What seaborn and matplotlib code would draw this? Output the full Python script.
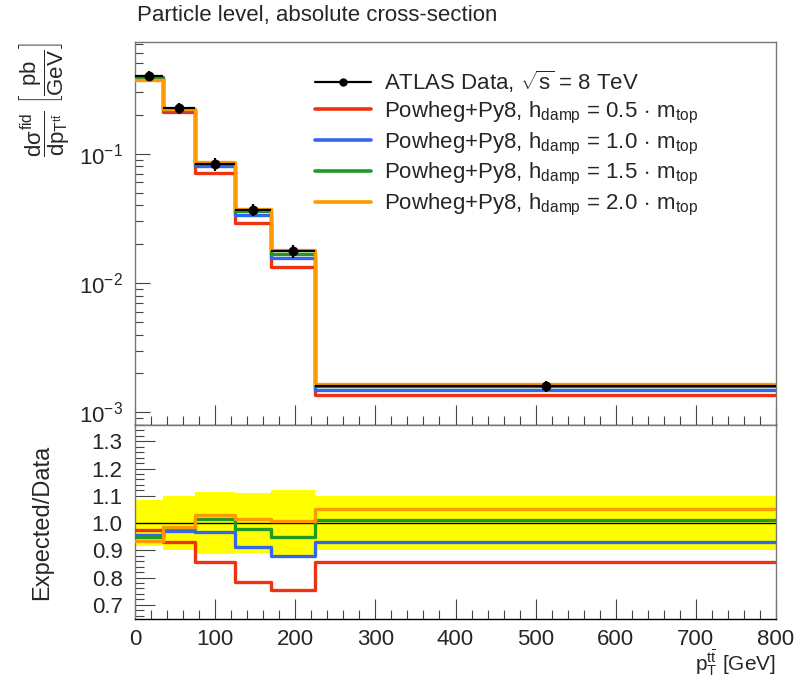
import numpy as np
import pandas as pd
import matplotlib
matplotlib.use("Agg")
import matplotlib.pyplot as plt
from matplotlib.lines import Line2D
from matplotlib.ticker import MultipleLocator, LogLocator, NullFormatter, FormatStrFormatter
import seaborn as sns

# binning and measured values (particle level, absolute cross-section)
bin_edges = [0, 35, 75, 125, 170, 225, 800]
data_xsec = [0.40, 0.225, 0.083, 0.037, 0.0177, 0.00159]
data_rel_unc = [0.085, 0.10, 0.115, 0.11, 0.12, 0.10]

# Expected/Data for the four hdamp settings
ratio_hdamp_05 = [0.973, 0.929, 0.856, 0.782, 0.753, 0.858]
ratio_hdamp_10 = [0.955, 0.970, 0.968, 0.912, 0.878, 0.930]
ratio_hdamp_15 = [0.950, 0.982, 1.015, 0.978, 0.949, 1.010]
ratio_hdamp_20 = [0.934, 0.984, 1.030, 1.015, 1.009, 1.052]
hdamp_values = ["0.5", "1.0", "1.5", "2.0"]
colors = ["#ee3311", "#3366ee", "#229922", "#ff9900"]

sns.set_style("ticks")
plt.rcParams["font.family"] = ["Liberation Sans", "DejaVu Sans"]
plt.rcParams["mathtext.fontset"] = "custom"
plt.rcParams["mathtext.rm"] = "Liberation Sans"
plt.rcParams["mathtext.it"] = "Liberation Sans"
plt.rcParams["mathtext.sf"] = "Liberation Sans"
plt.rcParams["mathtext.bf"] = "Liberation Sans:bold"

edges = np.array(bin_edges, dtype=float)
centers = 0.5 * (edges[:-1] + edges[1:])
halfw = 0.5 * np.diff(edges)
data = np.array(data_xsec)
unc = np.array(data_rel_unc)
ratios = [ratio_hdamp_05, ratio_hdamp_10, ratio_hdamp_15, ratio_hdamp_20]


def step_hist(a, weights, color):
    df = pd.DataFrame({"pt": centers, "w": np.asarray(weights, dtype=float)})
    sns.histplot(data=df, x="pt", weights="w", bins=bin_edges, element="step",
                 fill=False, color=color, linewidth=2.4, ax=a, zorder=3)


fig = plt.figure(figsize=(7.96, 6.79), dpi=100)
ax = fig.add_axes([0.1696, 0.3741, 0.8053, 0.5641])
ax2 = fig.add_axes([0.1696, 0.0884, 0.8053, 0.2857], sharex=ax)

# top panel
ax.set_yscale("log")
for r, c in zip(ratios, colors):
    step_hist(ax, data * np.array(r), c)
ax.errorbar(centers, data, xerr=halfw, yerr=data * unc, fmt="none",
            ecolor="black", elinewidth=1.6, capsize=0, zorder=5)
sns.scatterplot(x=centers, y=data, color="black", s=50, edgecolor="black",
                linewidth=0, ax=ax, zorder=6)
ax.set_ylim(8e-4, 0.73)
ax.set_xlim(0, 800)
ax.yaxis.set_major_locator(LogLocator(base=10, numticks=10))
ax.yaxis.set_minor_locator(LogLocator(base=10, subs=np.arange(2, 10), numticks=10))
ax.yaxis.set_minor_formatter(NullFormatter())
ax.tick_params(labelbottom=False)
ax.set_xlabel("")
ax.set_ylabel(r"$\dfrac{d\sigma^{\rm fid}}{dp_{{\rm T}^{t\bar{t}}}}\ \left[\dfrac{\rm pb}{\rm GeV}\right]$",
              fontsize=16, loc="top")
ax.yaxis.set_label_coords(-0.1, 1.0)

handles = [Line2D([], [], color="black", lw=1.6, marker="o", markersize=5)]
labels = [r"ATLAS Data, $\sqrt{s}$ = 8 TeV"]
for h, c in zip(hdamp_values, colors):
    handles.append(Line2D([], [], color=c, lw=2.6))
    labels.append(r"Powheg+Py8, h$_{\rm damp}$ = " + h + r"$\,\cdot\,$m$_{\rm top}$")
ax.legend(handles, labels, loc="upper left", bbox_to_anchor=(0.281, 0.93),
          frameon=False, fontsize=16, handlelength=2.5, handletextpad=0.6,
          labelspacing=0.21, borderpad=0, borderaxespad=0)

# ratio panel
ax2.stairs(1 + unc, edges, baseline=1 - unc, fill=True, color="#ffff00", lw=0, zorder=1)
ax2.axhline(1.0, color="black", lw=1, zorder=2)
for r, c in zip(ratios, colors):
    step_hist(ax2, r, c)
ax2.set_ylim(0.648, 1.36)
ax2.set_xlim(0, 800)
ax2.yaxis.set_major_locator(MultipleLocator(0.1))
ax2.yaxis.set_minor_locator(MultipleLocator(0.02))
ax2.yaxis.set_major_formatter(FormatStrFormatter("%.1f"))
ax2.xaxis.set_major_locator(MultipleLocator(100))
ax2.xaxis.set_minor_locator(MultipleLocator(20))
ax2.set_ylabel("Expected/Data", fontsize=17)
ax2.yaxis.set_label_coords(-0.128, 0.5)
ax2.set_xlabel(r"p$_{\rm T}^{t\bar{t}}$ [GeV]", fontsize=15, loc="right")
ax2.xaxis.set_label_coords(1.0, -0.148)

for a, ymaj, ymin in [(ax, 10.8, 6.0), (ax2, 14.4, 6.5)]:
    a.tick_params(axis="both", which="both", direction="in", top=False, right=False,
                  labelsize=16, width=0.8, color="#444444")
    a.tick_params(axis="y", pad=9)
    a.tick_params(axis="x", pad=7)
    a.tick_params(axis="x", which="major", length=14.4)
    a.tick_params(axis="x", which="minor", length=6.5)
    a.tick_params(axis="y", which="major", length=ymaj)
    a.tick_params(axis="y", which="minor", length=ymin)
    for name, s in a.spines.items():
        s.set_linewidth(1.0)
        s.set_color("black" if name == "bottom" else "#777777")

fig.text(137 / 796, 1 - 15 / 679, "Particle level, absolute cross-section",
         fontsize=16, ha="left", va="center")

fig.savefig("out.png", dpi=100)
